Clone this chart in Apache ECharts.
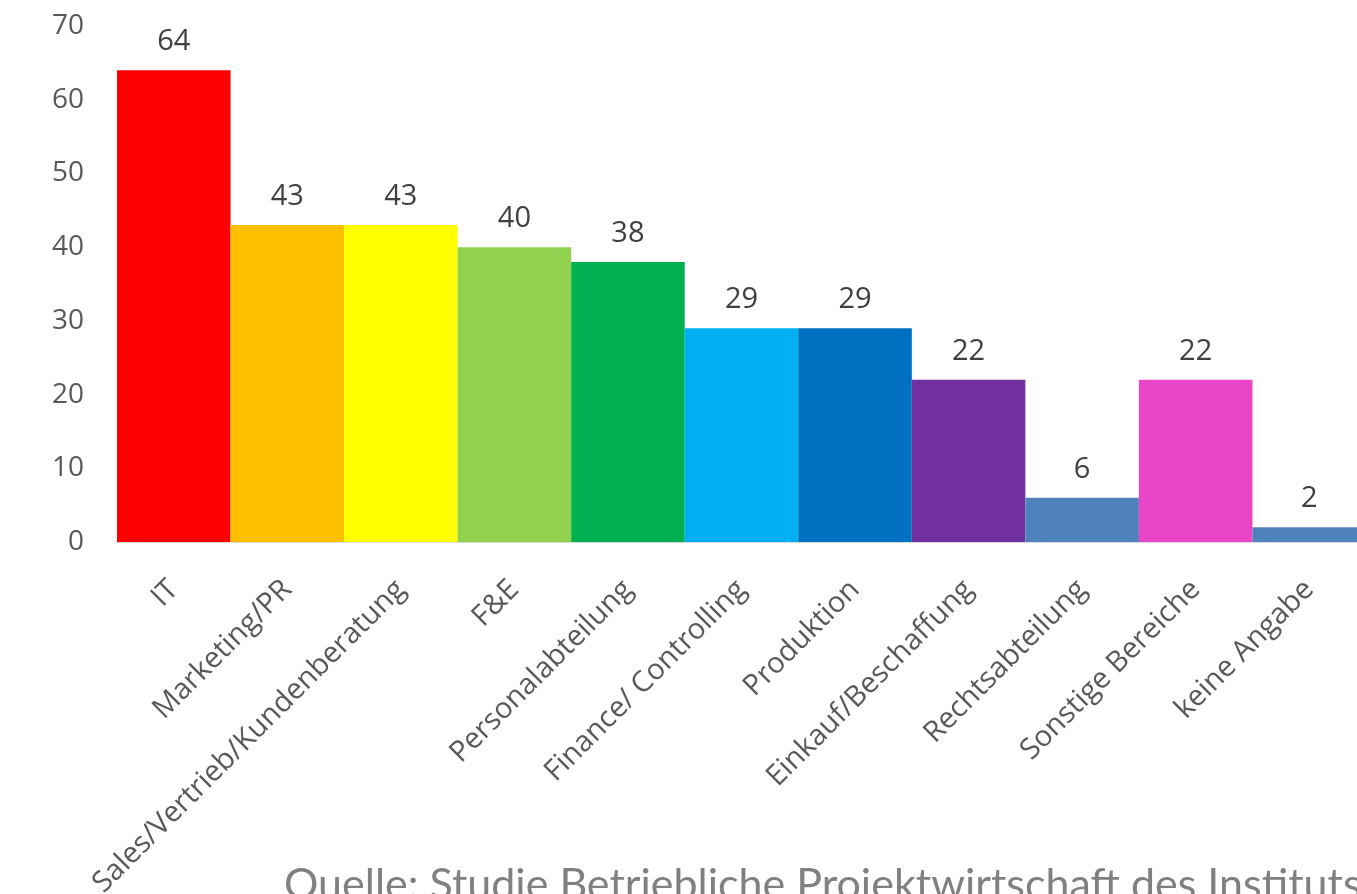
<!DOCTYPE html>
<html><head><meta charset="utf-8">
<script src="https://cdn.jsdelivr.net/npm/echarts@6/dist/echarts.min.js"></script>
<style>html,body{margin:0;padding:0;background:#fff;overflow:hidden}#c{width:1357px;height:894px}</style>
</head><body><div id="c"></div>
<script>
var categories = ["IT","Marketing/PR","Sales/Vertrieb/Kundenberatung","F&E","Personalabteilung","Finance/ Controlling","Produktion","Einkauf/Beschaffung","Rechtsabteilung","Sonstige Bereiche","keine Angabe"];
var values = [64,43,43,40,38,29,29,22,6,22,2];
var colors = ["#FF0000","#FFC000","#FFFF00","#92D050","#00B050","#00B0F0","#0070C0","#7030A0","#4F81BD","#EB45C7","#4F81BD"];
var yTicks = [0,10,20,30,40,50,60,70];
var sourceText = "Quelle: Studie Betriebliche Projektwirtschaft des Instituts";

var chart = echarts.init(document.getElementById('c'), null, {renderer:'canvas'});
chart.setOption({
  animation:false,
  grid:{left:117, top:26, width:1249, height:516, containLabel:false, outerBoundsMode:'none'},
  xAxis:{type:'category', data:categories,
    axisLine:{lineStyle:{color:'#D9D9D9', width:2}},
    axisTick:{show:false},
    axisLabel:{rotate:45, interval:0, margin:43, fontFamily:'Open Sans', fontSize:29, color:'#595959'}
  },
  yAxis:{type:'value', min:yTicks[0], max:yTicks[yTicks.length-1], interval:10,
    axisLine:{show:false}, axisTick:{show:false}, splitLine:{show:false},
    axisLabel:{margin:33, fontFamily:'Open Sans', fontSize:28, color:'#595959', padding:[4,0,0,0]}
  },
  series:[{type:'bar', barCategoryGap:'0%',
    data: values.map(function(v,i){return {value:v, itemStyle:{color:colors[i]}};}),
    label:{show:true, position:'top', distance:14, fontFamily:'Open Sans', fontSize:29, color:'#404040'}
  }],
  graphic:[{type:'text', left:284, top:864, style:{text:sourceText, fontFamily:'Lato', fontSize:43, fill:'#808080'}}]
});
</script></body></html>
